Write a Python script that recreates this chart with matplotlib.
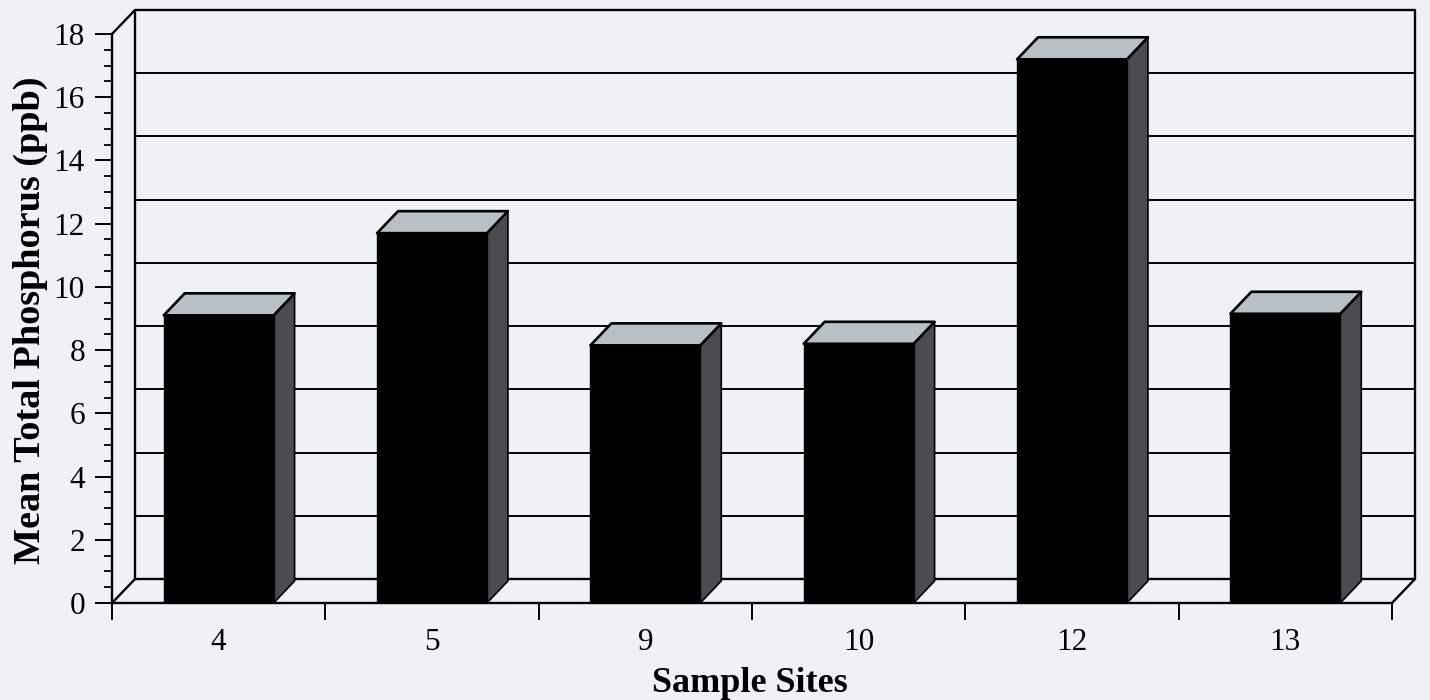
import matplotlib
matplotlib.use("Agg")
import matplotlib.pyplot as plt
from matplotlib.patches import Polygon
from matplotlib.ticker import MultipleLocator, FixedLocator, NullFormatter

# Mean total phosphorus per sample site
sites = ["4", "5", "9", "10", "12", "13"]
phosphorus = [9.1, 11.7, 8.15, 8.2, 17.2, 9.15]

y_max = 18
y_major = 2
y_minor = 0.5

plt.rcParams["font.family"] = ["Liberation Serif", "DejaVu Serif"]

W, H = 1430, 700
fig = plt.figure(figsize=(W / 100, H / 100), dpi=100)
page = "#eef2f6"
fig.patch.set_facecolor(page)

# front plane of the 3-D box, in pixels
left_px, right_px, top_px, bottom_px = 112, 1392, 34, 603
ax = fig.add_axes([left_px / W, 1 - bottom_px / H,
                   (right_px - left_px) / W, (bottom_px - top_px) / H])
ax.set_facecolor("none")
n = len(sites)
ax.set_xlim(0, n)
ax.set_ylim(0, y_max)

# depth offsets of the box and of the bars (data units)
px_x = (right_px - left_px) / n
px_y = (bottom_px - top_px) / y_max
dx, dy = 23 / px_x, 24 / px_y
bdx, bdy = 21 / px_x, 22 / px_y

lw = 1.7
line = dict(color="black", lw=lw, clip_on=False, solid_capstyle="round", zorder=2)

# back wall, side wall and floor outlines
ax.plot([dx, dx, n + dx, n + dx], [dy, y_max + dy, y_max + dy, dy], **line)
ax.plot([dx, n + dx], [dy, dy], **line)
ax.plot([0, dx], [0, dy], **line)
ax.plot([n, n + dx], [0, dy], **line)
ax.plot([0, dx], [y_max, y_max + dy], **line)
for v in range(y_major, y_max, y_major):
    ax.plot([dx, n + dx], [v + dy, v + dy], color="black", lw=1.4,
            clip_on=False, zorder=1)

# bars: front face, top face and right side
bar_w = 0.515
for i, v in enumerate(phosphorus):
    x0 = i + 0.5 - bar_w / 2
    x1 = x0 + bar_w
    side = Polygon([(x1, 0), (x1 + bdx, bdy), (x1 + bdx, v + bdy), (x1, v)],
                   closed=True, facecolor="#4b4c50", edgecolor="black",
                   lw=1.2, clip_on=False, zorder=3)
    top = Polygon([(x0, v), (x1, v), (x1 + bdx, v + bdy), (x0 + bdx, v + bdy)],
                  closed=True, facecolor="#b8bfc5", edgecolor="black",
                  lw=1.9, clip_on=False, zorder=4, joinstyle="round")
    ax.add_patch(side)
    ax.add_patch(top)
    ax.bar(i + 0.5, v, width=bar_w, color="black", edgecolor="black",
           lw=1.0, zorder=5)

# axes frame: only the front left and bottom edges
for s in ("top", "right"):
    ax.spines[s].set_visible(False)
for s in ("left", "bottom"):
    ax.spines[s].set_linewidth(lw)
    ax.spines[s].set_zorder(6)

ax.yaxis.set_major_locator(MultipleLocator(y_major))
ax.yaxis.set_minor_locator(MultipleLocator(y_minor))
ax.tick_params(axis="y", which="major", direction="out", length=12.5,
               width=1.4, labelsize=22.5, pad=7)
ax.tick_params(axis="y", which="minor", direction="out", length=6, width=1.3)

ax.xaxis.set_major_locator(FixedLocator(range(n + 1)))
ax.xaxis.set_major_formatter(NullFormatter())
ax.xaxis.set_minor_locator(FixedLocator([i + 0.5 for i in range(n)]))
ax.set_xticklabels(sites, minor=True)
ax.tick_params(axis="x", which="major", direction="out", length=12, width=1.4)
ax.tick_params(axis="x", which="minor", length=0, labelsize=22.5, pad=18)

fig.text(30 / W, 1 - 320 / H, "Mean Total Phosphorus (ppb)", rotation=90,
         ha="center", va="center", fontsize=27.5, fontweight="bold")
fig.text(750 / W, 1 - 683 / H, "Sample Sites", ha="center", va="center",
         fontsize=26, fontweight="bold")

fig.savefig("out.png", dpi=100, facecolor=page)
